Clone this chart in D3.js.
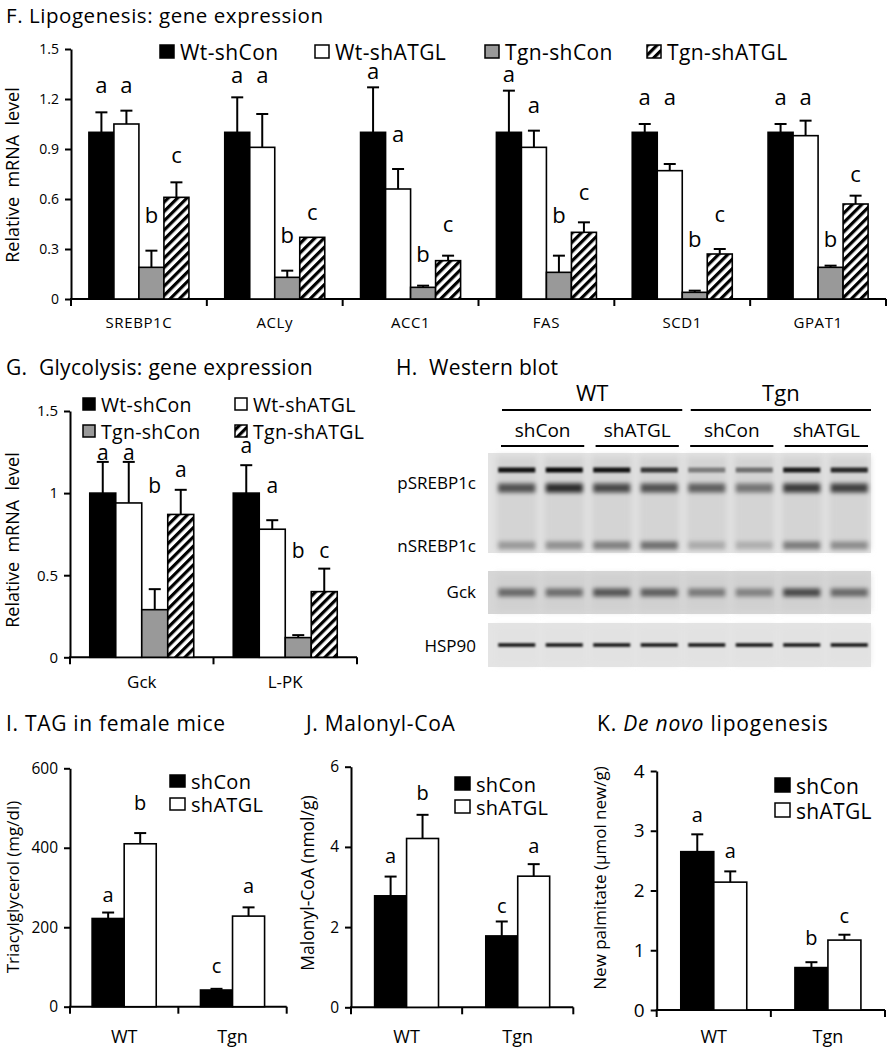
<!DOCTYPE html>
<html><head><meta charset="utf-8">
<script src="https://cdn.jsdelivr.net/npm/d3@7"></script>
<style>body{margin:0;background:#fff} svg{display:block} text{font-family:'Open Sans',sans-serif;fill:#000}</style>
</head><body><script>
// ---------------- DATA ----------------
// F. Lipogenesis gene expression
const lipoGenes = ["SREBP1C","ACLy","ACC1","FAS","SCD1","GPAT1"];
const groups4 = ["Wt-shCon","Wt-shATGL","Tgn-shCon","Tgn-shATGL"];
const lipoWtShCon   = [1.00,1.00,1.00,1.00,1.00,1.00];
const lipoWtShATGL  = [1.05,0.91,0.66,0.91,0.77,0.98];
const lipoTgnShCon  = [0.19,0.13,0.07,0.16,0.04,0.19];
const lipoTgnShATGL = [0.61,0.37,0.23,0.40,0.27,0.57];
const lipoWtShConSE   = [0.12,0.21,0.27,0.25,0.05,0.05];
const lipoWtShATGLSE  = [0.08,0.20,0.12,0.10,0.04,0.09];
const lipoTgnShConSE  = [0.10,0.04,0.01,0.10,0.01,0.01];
const lipoTgnShATGLSE = [0.09,0.00,0.03,0.06,0.03,0.05];
const lipoLetters = [["a","a","b","c"],["a","a","b","c"],["a","a","b","c"],["a","a","b","c"],["a","a","b","c"],["a","a","b","c"]];
const lipoLetterAt = [[1.234,1.234,0.458,0.816],[1.294,1.294,0.338,0.474],[1.32,0.944,0.224,0.404],[1.304,1.114,0.454,0.594],[1.164,1.164,0.314,0.464],[1.164,1.164,0.314,0.704]];
const lipoTicks = [0,0.3,0.6,0.9,1.2,1.5];

// G. Glycolysis gene expression
const glyGenes = ["Gck","L-PK"];
const glyWtShCon   = [1.00,1.00];
const glyWtShATGL  = [0.94,0.78];
const glyTgnShCon  = [0.29,0.12];
const glyTgnShATGL = [0.87,0.40];
const glyWtShConSE   = [0.19,0.17];
const glyWtShATGLSE  = [0.25,0.055];
const glyTgnShConSE  = [0.125,0.015];
const glyTgnShATGLSE = [0.15,0.14];
const glyLetters = [["a","a","b","a"],["a","a","b","c"]];
const glyLetterAt = [[1.20,1.20,0.998,1.099],[1.242,0.998,0.603,0.603]];
const glyTicks = [0,0.5,1,1.5];

// H. Western blot (relative band intensity per lane)
const blotGenotypes = ["WT","Tgn"];
const blotTreatments = ["shCon","shATGL","shCon","shATGL"];
const blotRows = ["pSREBP1c","nSREBP1c","Gck","HSP90"];
const pSrebpUpper = [0.92,0.97,0.92,0.75,0.42,0.48,0.88,0.82];
const pSrebpLower = [0.62,0.80,0.66,0.62,0.55,0.45,0.72,0.70];
const nSrebp      = [0.28,0.32,0.40,0.48,0.20,0.18,0.42,0.34];
const gckBand     = [0.50,0.48,0.60,0.55,0.42,0.38,0.66,0.50];
const hsp90Band   = [0.92,0.92,0.92,0.92,0.92,0.92,0.92,0.92];

// I, J, K two-group charts
const genotypes = ["WT","Tgn"];
const treatments = ["shCon","shATGL"];
const tagShCon = [222,42],  tagShConSE = [15,3];
const tagShATGL = [410,228], tagShATGLSE = [27,22];
const tagLetters = [["a","b"],["c","a"]];
const tagLetterAt = [[264,495],[84,285]];
const tagTicks = [0,200,400,600];

const malShCon = [2.78,1.78],  malShConSE = [0.48,0.36];
const malShATGL = [4.21,3.27], malShATGLSE = [0.59,0.30];
const malLetters = [["a","b"],["c","a"]];
const malLetterAt = [[3.59,5.17],[2.34,3.84]];
const malTicks = [0,2,4,6];

const dnlShCon = [2.65,0.71],  dnlShConSE = [0.29,0.09];
const dnlShATGL = [2.14,1.17], dnlShATGLSE = [0.18,0.09];
const dnlLetters = [["a","a"],["b","c"]];
const dnlLetterAt = [[3.15,2.54],[1.088,1.45]];
const dnlTicks = [0,1,2,3,4];

// ---------------- DRAWING ----------------
const FONT = "'Open Sans', sans-serif";
const svg = d3.select("body").append("svg").attr("width",887).attr("height",1050);
const defs = svg.append("defs");
const pat = defs.append("pattern").attr("id","hatch").attr("patternUnits","userSpaceOnUse")
  .attr("width",6.6).attr("height",6.6).attr("patternTransform","rotate(45)");
pat.append("rect").attr("width",6.6).attr("height",6.6).attr("fill","#fff");
pat.append("rect").attr("width",3.2).attr("height",6.6).attr("fill","#000");
defs.append("filter").attr("id","blur1").attr("x","-20%").attr("y","-200%").attr("width","140%").attr("height","500%")
  .append("feGaussianBlur").attr("stdDeviation",1.1);
defs.append("filter").attr("id","blur2").attr("x","-20%").attr("y","-200%").attr("width","140%").attr("height","500%")
  .append("feGaussianBlur").attr("stdDeviation",2.2);
defs.append("filter").attr("id","blur3").attr("x","-20%").attr("y","-20%").attr("width","140%").attr("height","140%")
  .append("feGaussianBlur").attr("stdDeviation",3);

const fills4 = ["#000","#fff","#999","url(#hatch)"];
const fills2 = ["#000","#fff"];

function txt(g, x, y, s, size, anchor, ls){
  return g.append("text").attr("x",x).attr("y",y).attr("font-size",size)
    .attr("letter-spacing",ls||0).attr("xml:space","preserve")
    .attr("text-anchor",anchor||"start").text(s);
}

function barPanel(o){
  const g = svg.append("g");
  const x = d3.scaleBand().domain(o.cats).range([o.left,o.right]);
  const xi = d3.scaleBand().domain(d3.range(o.series.length)).range([0,x.bandwidth()])
    .paddingInner(0).paddingOuter(o.pad);
  const y = d3.scaleLinear().domain([0,o.max]).range([o.bottom,o.top]);

  const ya = g.append("g").attr("transform",`translate(${o.left},0)`)
    .call(d3.axisLeft(y).tickValues(o.ticks).tickFormat(o.fmt).tickSize(6).tickSizeOuter(0).tickPadding(6));
  ya.attr("font-size",o.tickFont).attr("font-family",FONT);
  ya.select(".domain").attr("stroke","#000").attr("stroke-width",2);
  ya.selectAll(".tick line").attr("stroke","#000").attr("stroke-width",2);
  ya.selectAll(".tick text").attr("fill","#000");

  const bounds = o.cats.map(c=>x(c)).concat([o.right]);
  g.append("line").attr("x1",o.left-1).attr("x2",o.right).attr("y1",o.bottom).attr("y2",o.bottom)
    .attr("stroke","#000").attr("stroke-width",2);
  g.selectAll(".xt").data(bounds).join("line").attr("x1",d=>d).attr("x2",d=>d)
    .attr("y1",o.bottom).attr("y2",o.bottom+7).attr("stroke","#000").attr("stroke-width",2);
  g.selectAll(".xl").data(o.cats).join("text").attr("x",c=>x(c)+x.bandwidth()/2)
    .attr("y",o.bottom+o.xLabelDy).attr("text-anchor","middle").attr("font-size",o.xFont)
    .attr("letter-spacing",o.xLs||0).text(c=>c);

  const items = [];
  o.cats.forEach((c,i)=>o.series.forEach((s,k)=>items.push({
    c, k, v:s.vals[i], se:s.se[i], fill:s.fill, letter:o.letters[i][k], ly:o.letterAt[i][k]})));
  const cx = d => x(d.c)+xi(d.k)+xi.bandwidth()/2;

  const eb = items.filter(d=>d.se>0);
  g.selectAll(".ev").data(eb).join("line").attr("x1",cx).attr("x2",cx)
    .attr("y1",d=>y(d.v)).attr("y2",d=>y(d.v+d.se)).attr("stroke","#000").attr("stroke-width",2);
  g.selectAll(".ec").data(eb).join("line").attr("x1",d=>cx(d)-o.cap).attr("x2",d=>cx(d)+o.cap)
    .attr("y1",d=>y(d.v+d.se)).attr("y2",d=>y(d.v+d.se)).attr("stroke","#000").attr("stroke-width",2);

  g.selectAll(".bar").data(items).join("rect")
    .attr("x",d=>x(d.c)+xi(d.k)).attr("width",xi.bandwidth())
    .attr("y",d=>y(d.v)).attr("height",d=>y(0)-y(d.v))
    .attr("fill",d=>d.fill).attr("stroke","#000").attr("stroke-width",1.6);

  g.selectAll(".lt").data(items).join("text").attr("x",cx).attr("y",d=>y(d.ly))
    .attr("text-anchor","middle").attr("font-size",o.letterFont).text(d=>d.letter);

  g.append("text").attr("transform",`translate(${o.ytX},${o.ytY}) rotate(-90)`)
    .attr("text-anchor","middle").attr("font-size",o.ytFont).attr("xml:space","preserve").text(o.yTitle);
  return g;
}

function legend(items, size, font, ls){
  const g = svg.append("g");
  items.forEach(it=>{
    g.append("rect").attr("x",it.x).attr("y",it.y).attr("width",size[0]).attr("height",size[1])
      .attr("fill",it.fill).attr("stroke","#000").attr("stroke-width",1.5);
    g.append("text").attr("x",it.x+size[0]+6).attr("y",it.y+size[1]+2).attr("font-size",font)
      .attr("letter-spacing",ls||0).text(it.label);
  });
}

// ---- Titles ----
txt(svg,6,22.5,"F. Lipogenesis: gene expression",20.5,"start",0.55);
txt(svg,6,375,"G.  Glycolysis: gene expression",21,"start",0.3);
txt(svg,396,375,"H.  Western blot",21,"start",0.3);
txt(svg,6,731,"I. TAG in female mice",21,"start",0.7);
txt(svg,306,731,"J. Malonyl-CoA",21,"start",0.7);
const kt = svg.append("text").attr("x",597).attr("y",731).attr("font-size",21).attr("letter-spacing",0.8);
kt.append("tspan").text("K. ");
kt.append("tspan").attr("font-style","italic").text("De novo");
kt.append("tspan").text(" lipogenesis");

// ---- F ----
barPanel({cats:lipoGenes, left:71, right:886, top:49, bottom:299, max:1.5, pad:0.716,
  ticks:lipoTicks, fmt:d=>d===0?"0":d3.format(".1f")(d), tickFont:14,
  series:[{vals:lipoWtShCon,se:lipoWtShConSE,fill:fills4[0]},{vals:lipoWtShATGL,se:lipoWtShATGLSE,fill:fills4[1]},
          {vals:lipoTgnShCon,se:lipoTgnShConSE,fill:fills4[2]},{vals:lipoTgnShATGL,se:lipoTgnShATGLSE,fill:fills4[3]}],
  letters:lipoLetters, letterAt:lipoLetterAt, letterFont:22, cap:6,
  xFont:15, xLs:0.6, xLabelDy:29, yTitle:"Relative  mRNA  level", ytX:19, ytY:175, ytFont:18});
legend(groups4.map((l,i)=>({label:l, fill:fills4[i], x:[160,315,485,647][i], y:45})),[14,13],21,0.4);

// ---- G ----
barPanel({cats:glyGenes, left:70, right:357, top:411, bottom:657.3, max:1.5, pad:0.76,
  ticks:glyTicks, fmt:d3.format("~g"), tickFont:15,
  series:[{vals:glyWtShCon,se:glyWtShConSE,fill:fills4[0]},{vals:glyWtShATGL,se:glyWtShATGLSE,fill:fills4[1]},
          {vals:glyTgnShCon,se:glyTgnShConSE,fill:fills4[2]},{vals:glyTgnShATGL,se:glyTgnShATGLSE,fill:fills4[3]}],
  letters:glyLetters, letterAt:glyLetterAt, letterFont:21, cap:6,
  xFont:17, xLabelDy:31, yTitle:"Relative  mRNA  level", ytX:19, ytY:540, ytFont:18});
legend(groups4.map((l,i)=>({label:l, fill:fills4[i], x:[83,235,83,235][i], y:[398,398,425,425][i]})),[12,12],19.5,0.3);

// ---- I ----
barPanel({cats:genotypes, left:70, right:286.7, top:768.3, bottom:1006.7, max:600, pad:0.69,
  ticks:tagTicks, fmt:d3.format("d"), tickFont:15.5,
  series:[{vals:tagShCon,se:tagShConSE,fill:fills2[0]},{vals:tagShATGL,se:tagShATGLSE,fill:fills2[1]}],
  letters:tagLetters, letterAt:tagLetterAt, letterFont:20, cap:6,
  xFont:18, xLabelDy:36, yTitle:"Triacylglycerol (mg/dl)", ytX:18.5, ytY:887, ytFont:17});
legend(treatments.map((l,i)=>({label:l, fill:fills2[i], x:170, y:[775,798][i]})),[15,12],20,0.3);

// ---- J ----
barPanel({cats:genotypes, left:351, right:573.3, top:766.7, bottom:1007.3, max:6, pad:0.74,
  ticks:malTicks, fmt:d3.format("d"), tickFont:15.5,
  series:[{vals:malShCon,se:malShConSE,fill:fills2[0]},{vals:malShATGL,se:malShATGLSE,fill:fills2[1]}],
  letters:malLetters, letterAt:malLetterAt, letterFont:20, cap:6,
  xFont:18, xLabelDy:36, yTitle:"Malonyl-CoA (nmol/g)", ytX:314, ytY:883, ytFont:17.5});
legend(treatments.map((l,i)=>({label:l, fill:fills2[i], x:455, y:[777,800][i]})),[15,13],20,0.3);

// ---- K ----
barPanel({cats:genotypes, left:656.7, right:885, top:771, bottom:1010, max:4, pad:0.73,
  ticks:dnlTicks, fmt:d3.format("d"), tickFont:19,
  series:[{vals:dnlShCon,se:dnlShConSE,fill:fills2[0]},{vals:dnlShATGL,se:dnlShATGLSE,fill:fills2[1]}],
  letters:dnlLetters, letterAt:dnlLetterAt, letterFont:20, cap:6,
  xFont:18, xLabelDy:33, yTitle:"New palmitate (\u00b5mol new/g)", ytX:606, ytY:878, ytFont:17});
legend(treatments.map((l,i)=>({label:l, fill:fills2[i], x:775, y:[778,803][i]})),[15,14],21,0.3);

// ---- H. Western blot ----
const hb = svg.append("g");
const lx = d3.scaleBand().domain(d3.range(8)).range([493,873]).paddingInner(0.22).paddingOuter(0.11);
const pairX = d3.scaleBand().domain(d3.range(4)).range([501,868]).paddingInner(0.12);
const genoX = d3.scaleBand().domain(blotGenotypes).range([502,871]).paddingInner(0.045);
genoX.domain().forEach(gn=>{
  hb.append("line").attr("x1",genoX(gn)).attr("x2",genoX(gn)+genoX.bandwidth()).attr("y1",410).attr("y2",410)
    .attr("stroke","#000").attr("stroke-width",2);
  txt(hb,genoX(gn)+genoX.bandwidth()/2,401,gn,22,"middle");
});
blotTreatments.forEach((t,i)=>{
  hb.append("line").attr("x1",pairX(i)).attr("x2",pairX(i)+pairX.bandwidth()).attr("y1",446).attr("y2",446)
    .attr("stroke","#000").attr("stroke-width",2);
  txt(hb,pairX(i)+pairX.bandwidth()/2,437,t,19,"middle");
});
// panels
const panels = [{y:453,h:100,bg:"#e3e3e3",lane:"#d4d4d4"},{y:571,h:43,bg:"#d6d6d6",lane:"#d0d0d0"},{y:623,h:44,bg:"#e4e4e4",lane:"#e2e2e2"}];
panels.forEach(p=>{
  hb.append("rect").attr("x",488).attr("y",p.y).attr("width",383).attr("height",p.h).attr("fill",p.bg);
  const cg = hb.append("g");
  cg.selectAll("rect").data(d3.range(8)).join("rect").attr("x",d=>lx(d)-2).attr("width",lx.bandwidth()+4)
    .attr("y",p.y+3).attr("height",p.h-6).attr("fill",p.lane).attr("filter","url(#blur3)");
});
function bandRow(vals, cy, h, filt){
  hb.append("g").selectAll("rect").data(vals).join("rect")
    .attr("x",(d,i)=>lx(i)).attr("width",lx.bandwidth())
    .attr("y",cy-h/2).attr("height",h).attr("fill","#000").attr("fill-opacity",d=>d)
    .attr("filter",filt);
}
bandRow(pSrebpLower, 488, 9, "url(#blur2)");
bandRow(pSrebpUpper, 470, 5, "url(#blur1)");
bandRow(nSrebp, 545.5, 8, "url(#blur2)");
bandRow(gckBand, 592.5, 8, "url(#blur2)");
bandRow(hsp90Band, 645, 3.5, "url(#blur1)");
// row labels
const rowY = [489,552,598,652];
blotRows.forEach((r,i)=>txt(hb,476,rowY[i],r,17,"end"));
</script></body></html>
